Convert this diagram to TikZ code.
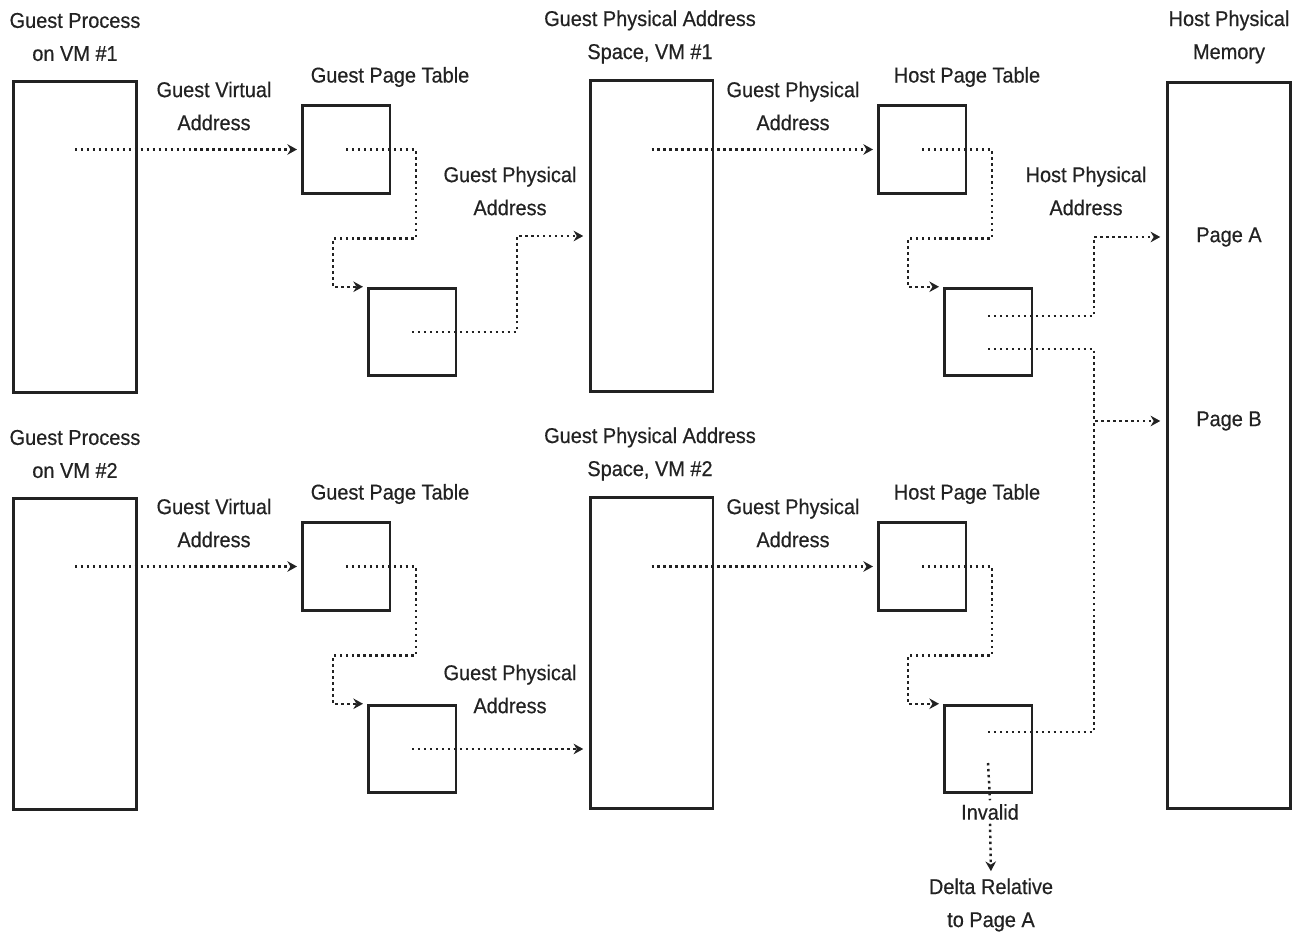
\documentclass[tikz,border=0pt]{standalone}
\usepackage{fontspec}
\setmainfont{Liberation Sans}[FakeStretch=0.93, FakeBold=0.5]
\usepackage{tikz}
\usetikzlibrary{arrows.meta,calc}

\definecolor{ink}{HTML}{222222}

\tikzset{
    box/.style={draw=ink, line width=1.7pt, inner sep=0pt},
    tallbox/.style={box, minimum width=2.46cm, minimum height=6.22cm},
    tblbox/.style={box, minimum width=1.76cm, minimum height=1.75cm},
    lbl/.style={text=ink, align=center, inner sep=2pt, font=\fontsize{12.2}{18.8}\selectfont},
    line/.style={draw=ink, line width=1.4pt, dash pattern=on 1.4pt off 2pt},
    link/.style={line, -{Stealth[length=5.5pt,width=6pt,inset=1.8pt]}, shorten >=2pt}
}

\begin{document}
\begin{tikzpicture}[x=0.02cm, y=-0.02cm]
    \useasboundingbox (0,0) rectangle (1301,935);

    \foreach \r/\y in {1/0, 2/417} {
        \node[tallbox] (gp\r) at (75,237+\y) {};
        \node[tblbox] (gpt\r) at (346,149.5+\y) {};
        \node[tblbox] (gptb\r) at (412,332+\y) {};
        \node[tallbox] (gpa\r) at (651.5,236+\y) {};
        \node[tblbox] (hpt\r) at (922,149.5+\y) {};
        \node[tblbox] (hptb\r) at (988,332+\y) {};

        \node[lbl] (gplbl\r) at (75,37+\y) {Guest Process\\on VM \#\r};
        \node[lbl] (gva\r) at (214,106+\y) {Guest Virtual\\Address};
        \node[lbl] (gptlbl\r) at (390,77+\y) {Guest Page Table};
        \node[lbl] (gpalbl\r) at (650,37+\y) {Guest Physical Address\\Space, VM \#\r};
        \node[lbl] (gpaddr\r) at (793,106+\y) {Guest Physical\\Address};
        \node[lbl] (hptlbl\r) at (967,77+\y) {Host Page Table};

        \draw[link] (gp\r.center |- gpt\r.center) -- (gpt\r.west);
        \draw[link] (gpt\r.center) -- ++(70,0) |- ++(-83,89) |- (gptb\r.north west);
        \draw[link] (gpa\r.center |- hpt\r.center) -- (hpt\r.west);
        \draw[link] (hpt\r.center) -- ++(70,0) |- ++(-84,89) |- (hptb\r.north west);
    }

    \node[lbl] (gpaddrb1) at (510,191) {Guest Physical\\Address};
    \node[lbl] (gpaddrb2) at (510,689) {Guest Physical\\Address};
    \node[lbl] (hpaddr) at (1086,191) {Host Physical\\Address};

    \node[box, minimum width=2.46cm, minimum height=14.54cm] (mem) at (1228.5,445.5) {};
    \node[lbl] (memlbl) at (1229,37) {Host Physical\\Memory};
    \node[lbl] (pageA) at (1229,237) {Page A};
    \node[lbl] (pageB) at (1229,421) {Page B};
    \coordinate (jB) at (1094,421);

    \draw[link, shorten >=3pt] (gptb1.center) -- ++(105,0) |- (gpa1.west);
    \draw[link, shorten >=3pt] (gptb2.center) -- (gptb2.center -| gpa2.west);

    \draw[link, shorten >=3pt] ($(hptb1.center)+(0,-16)$) -- ++(106,0) |- (mem.west |- pageA);
    \draw[link, shorten >=3pt] ($(hptb1.center)+(0,17)$) -| (jB) -- (mem.west |- pageB);
    \draw[line] ($(hptb2.center)+(0,-17)$) -| (jB);

    \node[lbl] (invalid) at (990,812) {Invalid};
    \node[lbl] (delta) at (991,905) {Delta Relative\\to Page A};
    \draw[line] ($(hptb2.center)+(0,14)$) -- (invalid.north);
    \draw[link] (invalid.south) -- (delta.north);
\end{tikzpicture}
\end{document}
